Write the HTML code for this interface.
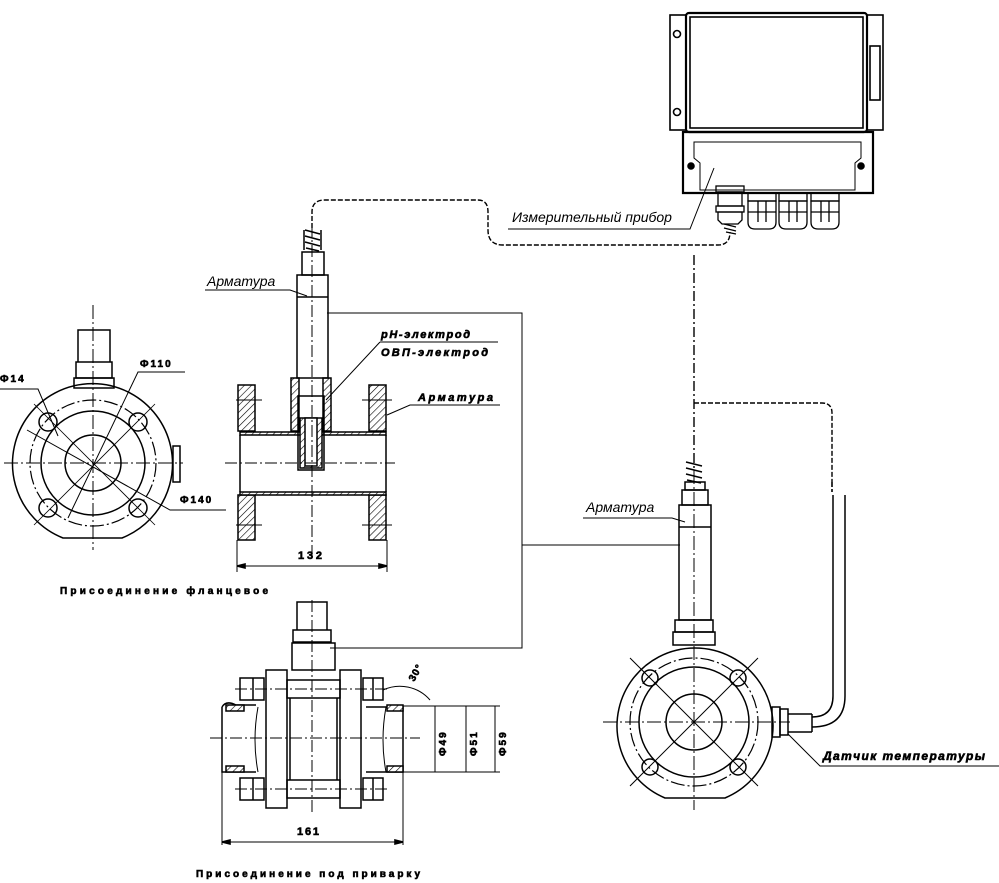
<!DOCTYPE html>
<html><head><meta charset="utf-8"><style>
html,body{margin:0;padding:0;background:#fff;}
svg{display:block;}
text{font-family:"Liberation Sans","DejaVu Sans",sans-serif;fill:#000;stroke:none;}
.b{font-weight:bold;font-size:11px;stroke:#000;stroke-width:0.6px;}
.i{font-style:italic;font-size:14px;}
</style></head><body>
<svg width="999" height="883" viewBox="0 0 999 883" xmlns="http://www.w3.org/2000/svg">
<defs>
<pattern id="h" width="5" height="5" patternUnits="userSpaceOnUse" patternTransform="rotate(45)">
<rect width="5" height="5" fill="#fff"/><line x1="0" y1="0" x2="0" y2="5" stroke="#000" stroke-width="1.2"/></pattern>
</defs>
<g fill="none" stroke="#000" stroke-width="1.6">

<rect x="670" y="15" width="16" height="115"/>
<rect x="867" y="15" width="16" height="115"/>
<rect x="686" y="13" width="181" height="119" rx="3" stroke-width="2.2"/>
<rect x="690" y="17" width="173" height="111"/>
<rect x="870" y="46" width="10" height="54"/>
<circle cx="677" cy="34" r="3.5"/><circle cx="677" cy="112" r="3.5"/>
<path d="M683 132 H873 V193 H683 Z" stroke-width="2.2"/>
<path d="M694 142 H861 V158 L855 163 V190 H700 V163 L694 158 Z" stroke-width="1"/>
<circle cx="691" cy="166" r="3" fill="#000"/><circle cx="861" cy="166" r="3" fill="#000"/>
<g stroke-width="1.3">
<rect x="716" y="186" width="28" height="6"/><rect x="718" y="192" width="24" height="14"/>
<rect x="716" y="206" width="28" height="6"/><path d="M718 212 H742 V220 L738 224 H722 L718 220 Z"/>
<path d="M724 224 l12 3 M724 228 l12 3 M726 232 l10 2"/>
<g id="g1"><rect x="748" y="193" width="28" height="8"/><path d="M748 201 H776 V222 Q776 229 769 229 H755 Q748 229 748 222 Z"/><line x1="748" y1="212" x2="776" y2="212"/><line x1="758" y1="201" x2="758" y2="222"/><line x1="766" y1="201" x2="766" y2="222"/></g>
<use href="#g1" x="31"/><use href="#g1" x="63"/>
</g>

<path d="M312 228 V212 Q312 200 325 200 H478 Q488 200 488 212 V230 Q488 245 503 245 H718 Q730 245 730 232" stroke-dasharray="5,2" stroke-width="1.4"/>
<path d="M508 229 H690 L714 168" stroke-width="1"/>

<path d="M694 255 V470" stroke-dasharray="10,3,2,3" stroke-width="1.4"/>
<path d="M694 403 H822 Q832 403 832 413 V482" stroke-dasharray="5,2" stroke-width="1.4"/>

<g stroke-width="1.5">
<path d="M63 538 A80 80 0 1 1 122 538 Z"/>
<circle cx="93" cy="463" r="63" stroke-dasharray="14,3,2,3" stroke-width="1.2"/>
<circle cx="93" cy="463" r="52"/>
<circle cx="93" cy="463" r="28"/>
<circle cx="48" cy="422" r="9"/><circle cx="138" cy="422" r="9"/>
<circle cx="48" cy="508" r="9"/><circle cx="138" cy="508" r="9"/>
<rect x="74" y="378" width="40" height="10"/>
<rect x="76" y="362" width="36" height="16"/>
<path d="M78 362 V330 H110 V362"/>
<rect x="173" y="446" width="7" height="36"/>
</g>
<g stroke-width="1">
<path d="M93 305 V550" stroke-dasharray="14,3,2,3"/>
<path d="M4 463 H183" stroke-dasharray="14,3,2,3"/>
<path d="M34 404 L155 525 M155 404 L34 525" stroke-width="0.8"/>
<path d="M0 389 H38 L58 436"/>
<path d="M27 430 L170 510 H226"/>
<path d="M68 518 L138 372 H185"/>
</g>
<text x="0" y="382" class="b" style="font-size:10px;letter-spacing:2px">Ф14</text>
<text x="140" y="367" class="b" style="font-size:10px;letter-spacing:2px">Ф110</text>
<text x="180" y="503" class="b" style="font-size:10px;letter-spacing:2px">Ф140</text>

<g stroke-width="1.5">
<rect x="238" y="385" width="17" height="46" fill="url(#h)"/>
<rect x="238" y="495" width="17" height="45" fill="url(#h)"/>
<rect x="369" y="385" width="17" height="46" fill="url(#h)"/>
<rect x="369" y="495" width="17" height="45" fill="url(#h)"/>
<rect x="240" y="432" width="146" height="3" fill="url(#h)"/>
<rect x="240" y="492" width="146" height="3" fill="url(#h)"/>
<path d="M240 435 V492 M386 435 V492"/>
<rect x="291" y="378" width="8" height="53" fill="url(#h)"/>
<rect x="323" y="378" width="8" height="53" fill="url(#h)"/>
<path d="M298 396 H324 V470 H298 Z"/>
<rect x="300" y="418" width="22" height="50" fill="url(#h)"/>
<rect x="305" y="418" width="12" height="48" fill="#fff"/>
<rect x="297" y="275" width="31" height="103"/>
<line x1="297" y1="297" x2="328" y2="297"/>
<rect x="302" y="252" width="22" height="23"/>
<path d="M305 230 l15 4 M305 236 l15 4 M305 242 l15 4 M306 248 l13 3"/>
<path d="M304 230 V250 M321 230 V250"/>
</g>
<g stroke-width="1">
<path d="M312 225 V560" stroke-dasharray="12,3,2,3"/>
<path d="M225 463 H395" stroke-dasharray="12,3,2,3"/>
<path d="M236 400 H262 M362 400 H392 M236 525 H262 M362 525 H392"/>
<path d="M237 540 V572 M387 540 V572"/>
<path d="M237 566 H387"/>
<path d="M327 313 H522 V648 H330"/>
<path d="M522 545 H680"/>
<path d="M380 342 H498 M326 400 L380 342"/>
<path d="M387 415 L410 405 H500"/>
<path d="M205 290 H290 L307 296"/>
</g>
<path d="M237 566 l8 -2 v4 z M387 566 l-8 -2 v4 z" fill="#000"/>
<text x="298" y="559" class="b" textLength="24" lengthAdjust="spacing">132</text>
<text x="381" y="338" class="b" style="font-style:italic" textLength="89" lengthAdjust="spacing">pH-электрод</text>
<text x="381" y="356" class="b" style="font-style:italic" textLength="107" lengthAdjust="spacing">ОВП-электрод</text>
<text x="418" y="401" class="b" style="font-style:italic" textLength="75" lengthAdjust="spacing">Арматура</text>
<text x="207" y="286" class="i">Арматура</text>
<text x="512" y="222" class="i">Измерительный прибор</text>
<text x="60" y="594" class="b" style="font-size:10px" textLength="208" lengthAdjust="spacing">Присоединение фланцевое</text>

<g stroke-width="1.5">
<rect x="266" y="670" width="21" height="138"/>
<rect x="340" y="670" width="21" height="138"/>
<rect x="287" y="680" width="53" height="18"/>
<rect x="287" y="780" width="53" height="18"/>
<path d="M290 698 V780 M337 698 V780"/>
<rect x="240" y="678" width="24" height="22"/><rect x="240" y="778" width="24" height="22"/>
<rect x="363" y="678" width="20" height="22"/><rect x="363" y="778" width="20" height="22"/>
<path d="M253 678 V700 M253 778 V800 M373 678 V700 M373 778 V800"/>
<rect x="292" y="643" width="43" height="27"/>
<rect x="293" y="630" width="38" height="12"/>
<path d="M297 630 V602 H327 V630"/>
<path d="M222 707 Q226 700 236 705 H256 M222 707 V772 H256"/>
<rect x="226" y="705" width="18" height="6" fill="url(#h)"/>
<rect x="226" y="766" width="18" height="6" fill="url(#h)"/>
<path d="M366 707 H403 V772 H366"/>
<rect x="387" y="705" width="16" height="6" fill="url(#h)"/>
<rect x="387" y="766" width="16" height="6" fill="url(#h)"/>
<path d="M258 707 Q252 740 258 772 M386 707 Q380 740 386 772" stroke-width="1"/>
</g>
<g stroke-width="1">
<path d="M312 600 V815" stroke-dasharray="12,3,2,3"/>
<path d="M210 738 H420" stroke-dasharray="12,3,2,3"/>
<path d="M235 689 H390 M235 789 H390" stroke-dasharray="12,3,2,3"/>
<path d="M222 772 V845 M403 772 V845 M222 842 H403"/>
<path d="M403 706 H500 M403 772 H500 M435 706 V772 M466 706 V772 M495 706 V772"/>
<path d="M383 690 A40 40 0 0 1 430 700"/>
</g>
<path d="M222 842 l8 -2 v4 z M403 842 l-8 -2 v4 z" fill="#000"/>
<text x="297" y="835" class="b" textLength="22" lengthAdjust="spacing">161</text>
<text transform="translate(446,756) rotate(-90)" class="b" style="font-size:10px;letter-spacing:2px">Ф49</text>
<text transform="translate(477,756) rotate(-90)" class="b" style="font-size:10px;letter-spacing:2px">Ф51</text>
<text transform="translate(506,756) rotate(-90)" class="b" style="font-size:10px;letter-spacing:2px">Ф59</text>
<text transform="translate(414,682) rotate(-60)" class="b" style="font-size:10px;letter-spacing:1px">30°</text>
<text x="196" y="877" class="b" style="font-size:10px" textLength="224" lengthAdjust="spacing">Присоединение под приварку</text>

<g stroke-width="1.5">
<path d="M665 798 A78 78 0 1 1 725 798 Z"/>
<circle cx="694" cy="722" r="64" stroke-dasharray="14,3,2,3" stroke-width="1.2"/>
<circle cx="694" cy="722" r="55"/>
<circle cx="694" cy="722" r="28"/>
<circle cx="650" cy="678" r="8"/><circle cx="738" cy="678" r="8"/>
<circle cx="650" cy="767" r="8"/><circle cx="738" cy="767" r="8"/>
<rect x="673" y="632" width="42" height="13"/>
<rect x="675" y="620" width="38" height="12"/>
<rect x="679" y="505" width="32" height="115"/>
<line x1="679" y1="527" x2="711" y2="527"/>
<rect x="682" y="490" width="26" height="15"/>
<rect x="685" y="482" width="20" height="8"/>
<path d="M686 462 l16 4 M686 468 l16 4 M686 474 l16 4 M687 480 l14 3"/>
<rect x="772" y="707" width="8" height="30"/><rect x="780" y="709" width="8" height="26"/>
<path d="M788 714 H812 M788 732 H812 M812 714 V732"/>
<path d="M812 717 Q833 717 833 696 V495 M812 727 Q845 727 845 696 V495"/>
</g>
<g stroke-width="1">
<path d="M694 470 V810" stroke-dasharray="14,3,2,3"/>
<path d="M603 722 H790" stroke-dasharray="14,3,2,3"/>
<path d="M630 658 L758 786 M758 658 L630 786"/>
<path d="M583 518 H672 L685 522"/>
<path d="M788 734 L820 766 H999"/>
</g>
<path d="M832 482 V492" stroke-dasharray="5,2"/>
<text x="586" y="512" class="i">Арматура</text>
<text x="823" y="760" class="b" style="font-style:italic;font-size:12px" textLength="162" lengthAdjust="spacing">Датчик температуры</text>
</g>
</svg>
</body></html>
